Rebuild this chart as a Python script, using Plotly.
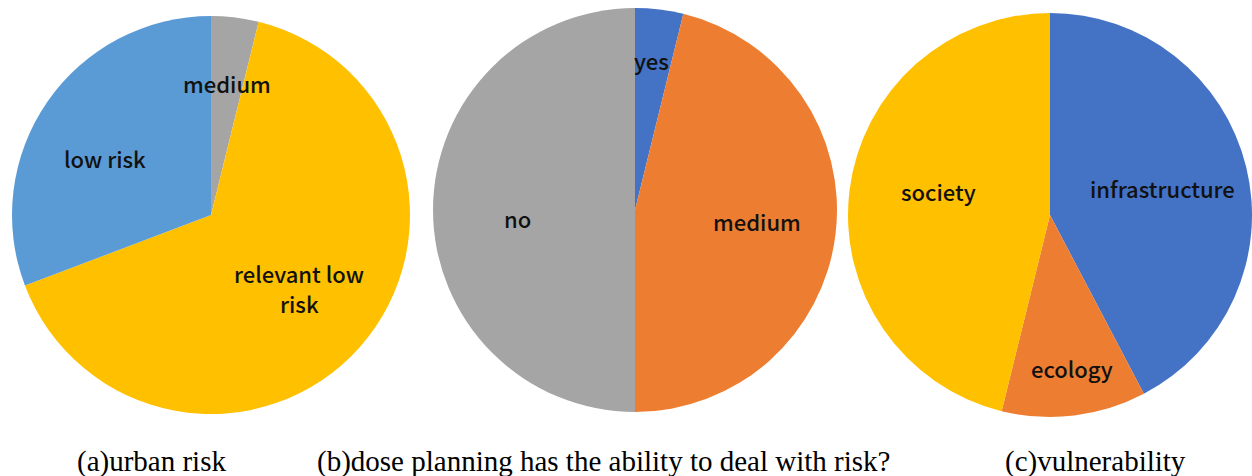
import plotly.graph_objects as go

W, H = 1252, 476

# Data (counts)
urban_labels = ["medium", "relevant low risk", "low risk"]
urban_values = [1, 17, 8]
urban_colors = ["#A5A5A5", "#FFC000", "#5B9BD5"]

plan_labels = ["yes", "medium", "no"]
plan_values = [1, 12, 13]
plan_colors = ["#4472C4", "#ED7D31", "#A5A5A5"]

vuln_labels = ["infrastructure", "ecology", "society"]
vuln_values = [11, 3, 12]
vuln_colors = ["#4472C4", "#ED7D31", "#FFC000"]

captions = ["(a)urban risk", "(b)dose planning has the ability to deal with risk?", "(c)vulnerability"]

def dom(cx, cy, r):
    return dict(x=[(cx - r) / W, (cx + r) / W], y=[1 - (cy + r) / H, 1 - (cy - r) / H])

fig = go.Figure()
pies = [
    (urban_labels, urban_values, urban_colors, (211, 215, 199)),
    (plan_labels, plan_values, plan_colors, (635, 210, 202)),
    (vuln_labels, vuln_values, vuln_colors, (1050, 215, 202)),
]
for labels, values, colors, (cx, cy, r) in pies:
    fig.add_trace(go.Pie(
        labels=labels, values=values, sort=False, direction="clockwise", rotation=0,
        marker=dict(colors=colors, line=dict(width=0)),
        textinfo="none", hoverinfo="label+value+percent",
        domain=dom(cx, cy, r), showlegend=False,
    ))

label_pos = {
    ("urban", 0): (227, 83), ("urban", 1): (299, 288), ("urban", 2): (105, 158),
    ("plan", 0): (651, 60), ("plan", 1): (757, 221), ("plan", 2): (517, 218),
    ("vuln", 0): (1162, 188), ("vuln", 1): (1072, 368), ("vuln", 2): (938, 191),
}
label_sets = {"urban": urban_labels, "plan": plan_labels, "vuln": vuln_labels}
LINE_GAP = 30
annotations = []
for (key, i), (x, y) in label_pos.items():
    text = label_sets[key][i]
    lines = text.rsplit(" ", 1) if text == "relevant low risk" else [text]
    n = len(lines)
    for j, line in enumerate(lines):
        ly = y + (j - (n - 1) / 2) * LINE_GAP
        annotations.append(dict(
            text=line, x=x / W, y=1 - ly / H, xref="paper", yref="paper",
            showarrow=False, xanchor="center", yanchor="middle",
            font=dict(family="Noto Sans CJK SC", size=22, color="#111111", weight=500),
        ))

cap_pos = [(151, 461), (603, 461), (1095, 461)]
for text, (x, y) in zip(captions, cap_pos):
    annotations.append(dict(
        text=text, x=x / W, y=1 - y / H, xref="paper", yref="paper",
        showarrow=False, xanchor="center", yanchor="middle",
        font=dict(family="Liberation Serif", size=29, color="#000000"),
    ))

fig.update_layout(
    width=W, height=H, margin=dict(l=0, r=0, t=0, b=0),
    paper_bgcolor="white", plot_bgcolor="white",
    annotations=annotations,
)
fig.write_html("out.html")
